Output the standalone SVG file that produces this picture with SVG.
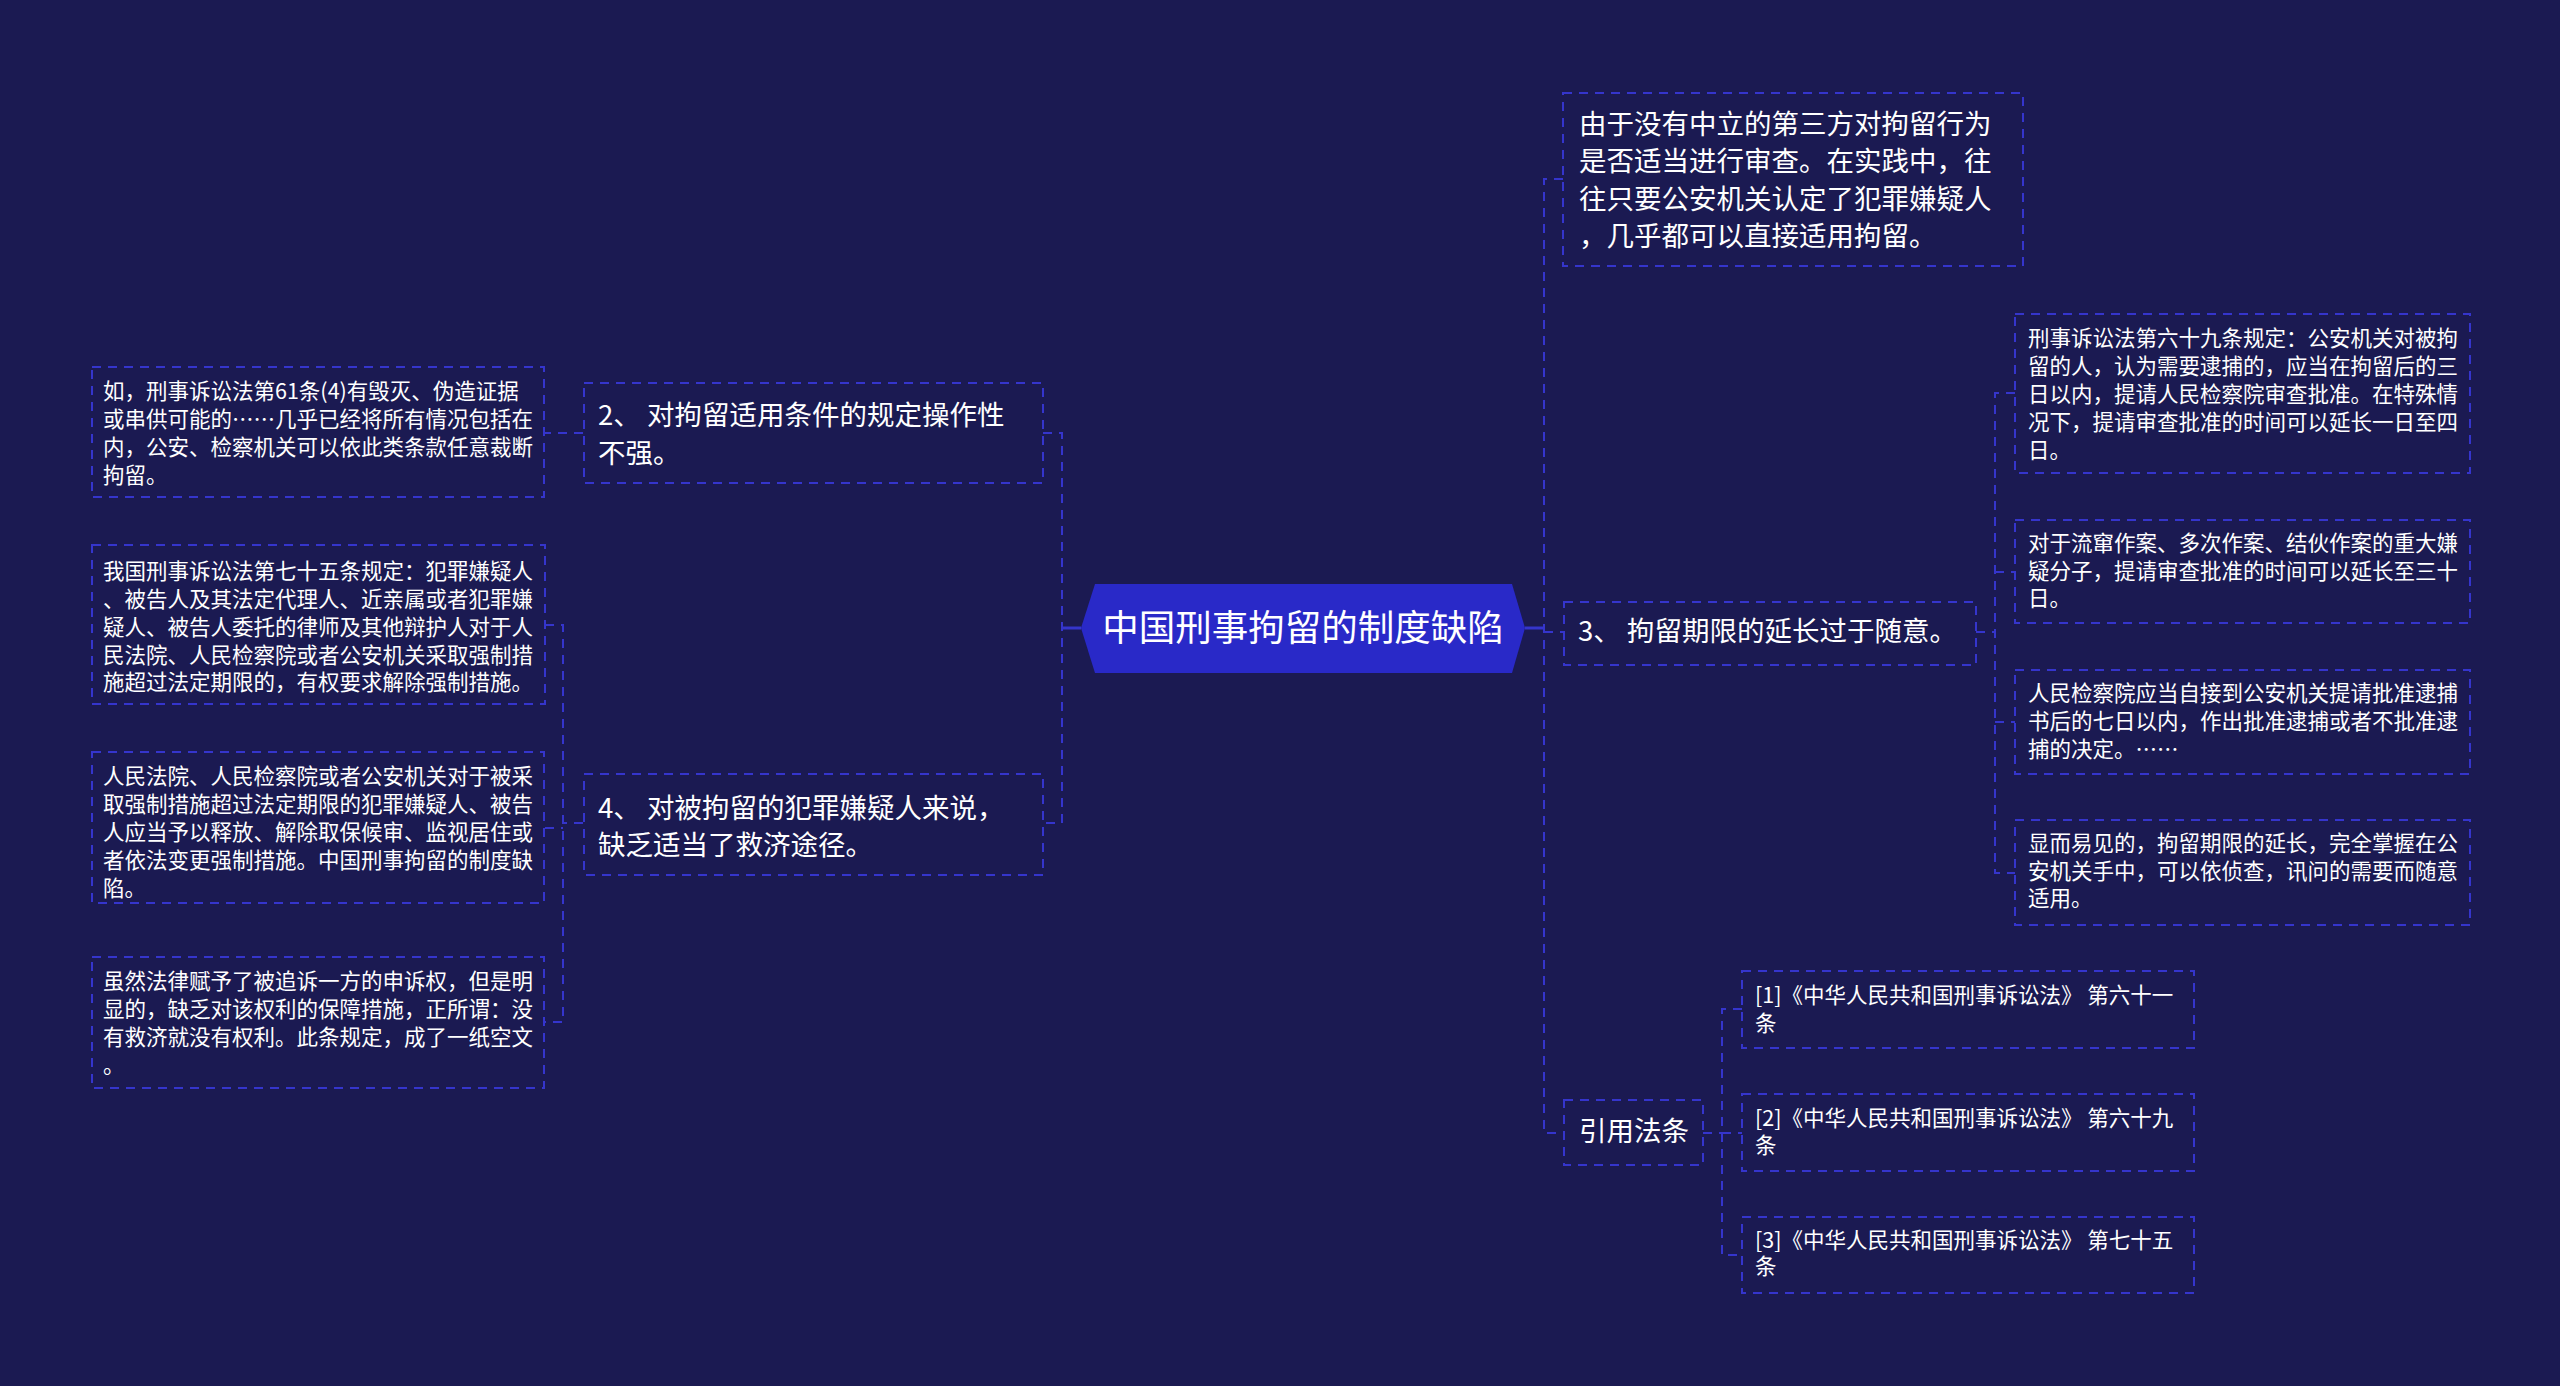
<svg xmlns="http://www.w3.org/2000/svg" width="2560" height="1386" viewBox="0 0 2560 1386">
<style>
.bx{fill:none;stroke:#3535cc;stroke-width:2;stroke-dasharray:9 7}
.cn{fill:none;stroke:#3535cc;stroke-width:2;stroke-dasharray:9 7}
.cs{fill:none;stroke:#3535cc;stroke-width:3}
text{font-family:"Noto Sans CJK SC","Noto Sans",sans-serif;fill:#ffffff}
.t1{font-size:27.5px}
.t2{font-size:21.5px}
.rt{font-size:36.5px}
</style>
<rect width="2560" height="1386" fill="#1b1a52"/>
<g id="connectors">
<path class="cs" d="M1081,628 H1062"/>
<path class="cn" d="M1043,433 H1062 V823 H1043"/>
<path class="cn" d="M583,433 H545"/>
<path class="cn" d="M583,823 H563"/>
<path class="cn" d="M545,625 H563 V1022 H545"/>
<path class="cn" d="M545,828 H563"/>
<path class="cs" d="M1525,628 H1544"/>
<path class="cn" d="M1563,179 H1544 V1133 H1564"/>
<path class="cn" d="M1544,632 H1564"/>
<path class="cn" d="M1976,632 H1995"/>
<path class="cn" d="M2015,393 H1995 V873 H2015"/>
<path class="cn" d="M1995,572 H2015"/>
<path class="cn" d="M1995,722 H2015"/>
<path class="cn" d="M1703,1133 H1722"/>
<path class="cn" d="M1742,1009 H1722 V1255 H1742"/>
<path class="cn" d="M1722,1133 H1742"/>
</g>
<g id="root">
<polygon points="1081,628 1095,584 1512,584 1525,628 1512,673 1095,673" fill="#2929c8"/>
<text class="rt" x="1303" y="641" text-anchor="middle">中国刑事拘留的制度缺陷</text>
</g>
<g id="n-top">
<rect class="bx" x="1563" y="93" width="460" height="173"/>
<text class="t1" x="1579" y="133.5">由于没有中立的第三方对拘留行为</text>
<text class="t1" x="1579" y="171">是否适当进行审查。在实践中，往</text>
<text class="t1" x="1579" y="208.5">往只要公安机关认定了犯罪嫌疑人</text>
<text class="t1" x="1579" y="246">，几乎都可以直接适用拘留。</text>
</g>
<g id="n-b2">
<rect class="bx" x="584" y="383" width="459" height="100"/>
<text class="t1" x="598" y="424.5">2、 对拘留适用条件的规定操作性</text>
<text class="t1" x="598" y="462.5">不强。</text>
</g>
<g id="n-b4">
<rect class="bx" x="584" y="774" width="459" height="101"/>
<text class="t1" x="598" y="817.5">4、 对被拘留的犯罪嫌疑人来说，</text>
<text class="t1" x="598" y="854.5">缺乏适当了救济途径。</text>
</g>
<g id="n-b3">
<rect class="bx" x="1564" y="602" width="412" height="63"/>
<text class="t1" x="1578" y="641">3、 拘留期限的延长过于随意。</text>
</g>
<g id="n-ref">
<rect class="bx" x="1564" y="1100" width="139" height="65"/>
<text class="t1" x="1579" y="1141">引用法条</text>
</g>
<g id="n-a">
<rect class="bx" x="92" y="367" width="452" height="130"/>
<text class="t2" x="103" y="399">如，刑事诉讼法第61条(4)有毁灭、伪造证据</text>
<text class="t2" x="103" y="427">或串供可能的……几乎已经将所有情况包括在</text>
<text class="t2" x="103" y="455">内，公安、检察机关可以依此类条款任意裁断</text>
<text class="t2" x="103" y="483">拘留。</text>
</g>
<g id="n-b">
<rect class="bx" x="92" y="545" width="453" height="159"/>
<text class="t2" x="103" y="579">我国刑事诉讼法第七十五条规定：犯罪嫌疑人</text>
<text class="t2" x="103" y="607">、被告人及其法定代理人、近亲属或者犯罪嫌</text>
<text class="t2" x="103" y="635">疑人、被告人委托的律师及其他辩护人对于人</text>
<text class="t2" x="103" y="663">民法院、人民检察院或者公安机关采取强制措</text>
<text class="t2" x="103" y="690">施超过法定期限的，有权要求解除强制措施。</text>
</g>
<g id="n-c">
<rect class="bx" x="92" y="752" width="452" height="151"/>
<text class="t2" x="103" y="784">人民法院、人民检察院或者公安机关对于被采</text>
<text class="t2" x="103" y="812">取强制措施超过法定期限的犯罪嫌疑人、被告</text>
<text class="t2" x="103" y="840">人应当予以释放、解除取保候审、监视居住或</text>
<text class="t2" x="103" y="868">者依法变更强制措施。中国刑事拘留的制度缺</text>
<text class="t2" x="103" y="896">陷。</text>
</g>
<g id="n-d">
<rect class="bx" x="92" y="957" width="452" height="131"/>
<text class="t2" x="103" y="989">虽然法律赋予了被追诉一方的申诉权，但是明</text>
<text class="t2" x="103" y="1017">显的，缺乏对该权利的保障措施，正所谓：没</text>
<text class="t2" x="103" y="1045">有救济就没有权利。此条规定，成了一纸空文</text>
<text class="t2" x="103" y="1073">。</text>
</g>
<g id="n-e">
<rect class="bx" x="2015" y="314" width="455" height="159"/>
<text class="t2" x="2028" y="346">刑事诉讼法第六十九条规定：公安机关对被拘</text>
<text class="t2" x="2028" y="374">留的人，认为需要逮捕的，应当在拘留后的三</text>
<text class="t2" x="2028" y="402">日以内，提请人民检察院审查批准。在特殊情</text>
<text class="t2" x="2028" y="430">况下，提请审查批准的时间可以延长一日至四</text>
<text class="t2" x="2028" y="458">日。</text>
</g>
<g id="n-f">
<rect class="bx" x="2015" y="520" width="455" height="103"/>
<text class="t2" x="2028" y="551">对于流窜作案、多次作案、结伙作案的重大嫌</text>
<text class="t2" x="2028" y="579">疑分子，提请审查批准的时间可以延长至三十</text>
<text class="t2" x="2028" y="606">日。</text>
</g>
<g id="n-g">
<rect class="bx" x="2015" y="670" width="455" height="104"/>
<text class="t2" x="2028" y="701">人民检察院应当自接到公安机关提请批准逮捕</text>
<text class="t2" x="2028" y="729">书后的七日以内，作出批准逮捕或者不批准逮</text>
<text class="t2" x="2028" y="757">捕的决定。……</text>
</g>
<g id="n-h">
<rect class="bx" x="2015" y="820" width="455" height="105"/>
<text class="t2" x="2028" y="851">显而易见的，拘留期限的延长，完全掌握在公</text>
<text class="t2" x="2028" y="879">安机关手中，可以依侦查，讯问的需要而随意</text>
<text class="t2" x="2028" y="906">适用。</text>
</g>
<g id="n-r1">
<rect class="bx" x="1742" y="971" width="452" height="77"/>
<text class="t2" x="1755" y="1003">[1]《中华人民共和国刑事诉讼法》 第六十一</text>
<text class="t2" x="1755" y="1031">条</text>
</g>
<g id="n-r2">
<rect class="bx" x="1742" y="1094" width="452" height="77"/>
<text class="t2" x="1755" y="1126">[2]《中华人民共和国刑事诉讼法》 第六十九</text>
<text class="t2" x="1755" y="1153">条</text>
</g>
<g id="n-r3">
<rect class="bx" x="1742" y="1217" width="452" height="76"/>
<text class="t2" x="1755" y="1248">[3]《中华人民共和国刑事诉讼法》 第七十五</text>
<text class="t2" x="1755" y="1274">条</text>
</g>
</svg>
